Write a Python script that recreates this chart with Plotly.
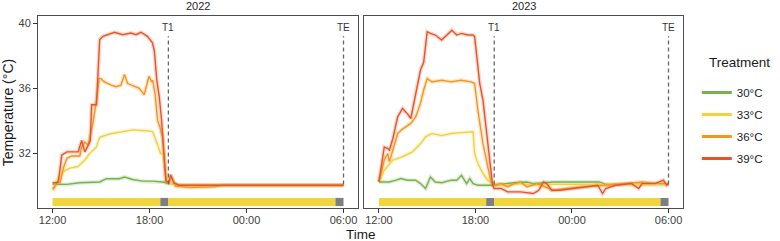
import plotly.graph_objects as go
from datetime import datetime, timedelta

# ---------------- data ----------------
treatments = ["30°C", "33°C", "36°C", "39°C"]
line_colors = ["#77b24f", "#f2d23c", "#f7941d", "#e5552b"]
years = ["2022", "2023"]

x_tick_labels = ["12:00", "18:00", "00:00", "06:00"]
y_tick_values = [32, 36, 40]

# 2022
time_2022_30 = ["12:00", "12:53", "13:41", "14:55", "15:20", "16:08", "16:27", "16:57", "17:34",
                "18:11", "18:47", "19:24", "20:00", "23:00", "02:00", "06:00"]
temp_2022_30 = [30.1, 30.1, 30.2, 30.25, 30.45, 30.45, 30.55, 30.4, 30.3,
                30.3, 30.25, 30.15, 30.05, 30.05, 30.05, 30.05]

time_2022_33 = ["12:00", "12:03", "12:22", "12:40", "13:05", "13:35", "14:00", "14:18", "14:43",
                "14:55", "15:32", "16:20", "16:57", "17:46", "18:11", "18:20", "18:32", "18:41",
                "18:54", "19:02", "19:12", "19:40", "23:00", "02:00", "06:00"]
temp_2022_33 = [29.9, 29.85, 30.55, 30.9, 31.1, 31.2, 31.6, 32.0, 32.4,
                33.0, 33.2, 33.35, 33.45, 33.4, 33.35, 33.0, 32.4, 32.0,
                31.9, 30.5, 30.2, 30.05, 30.05, 30.05, 30.05]

time_2022_36 = ["12:00", "12:04", "12:16", "12:28", "12:40", "12:53", "13:11", "13:41", "13:48",
                "14:00", "14:12", "14:30", "14:43", "14:53", "15:00", "15:12", "15:38", "15:56",
                "16:14", "16:27", "16:39", "17:04", "17:22", "17:40", "17:52", "17:58", "18:08",
                "18:12", "18:21", "18:30", "18:39", "18:48", "18:57", "19:03", "19:12", "19:24",
                "19:36", "20:30", "22:00", "22:30", "02:00", "06:00"]
temp_2022_36 = [29.9, 29.85, 30.2, 30.2, 31.1, 31.7, 31.85, 31.85, 32.4,
                32.7, 32.5, 33.85, 35.3, 36.6, 36.6, 36.4, 36.2, 36.1,
                36.2, 36.85, 36.3, 36.15, 36.0, 35.6, 36.5, 36.75, 36.4,
                36.5, 35.6, 34.0, 33.6, 33.0, 31.0, 30.2, 30.3, 30.5,
                30.0, 29.9, 29.95, 30.05, 30.05, 30.05]

time_2022_39 = ["12:00", "12:15", "12:22", "12:34", "12:53", "13:35", "13:48", "14:00", "14:12",
                "14:20", "14:25", "14:43", "14:55", "15:07", "15:50", "16:20", "16:51", "17:10",
                "17:28", "17:52", "18:11", "18:18", "18:27", "18:36", "18:45", "18:54", "19:01",
                "19:12", "19:18", "19:30", "19:48", "23:00", "02:00", "06:00"]
temp_2022_39 = [30.2, 30.2, 30.3, 31.9, 32.1, 32.1, 32.8, 32.1, 32.5,
                32.8, 35.0, 35.0, 39.0, 39.2, 39.45, 39.3, 39.4, 39.3,
                39.45, 39.2, 38.8, 38.3, 36.5, 35.5, 34.0, 32.0, 30.3,
                30.2, 30.7, 30.2, 30.05, 30.05, 30.05, 30.05]

# 2023
time_2023_30 = ["12:00", "12:39", "13:04", "13:22", "13:46", "14:17", "14:35", "14:54", "15:12",
                "15:30", "15:54", "16:30", "16:50", "17:08", "17:27", "17:39", "17:51", "18:09",
                "19:04", "19:48", "20:24", "21:12", "21:36", "22:14", "22:50", "01:42", "02:06",
                "06:00"]
temp_2023_30 = [30.25, 30.25, 30.36, 30.46, 30.36, 30.36, 30.15, 29.85, 30.56,
                30.25, 30.2, 30.36, 30.36, 30.66, 30.15, 30.46, 30.15, 30.05,
                30.05, 30.15, 30.2, 30.25, 30.15, 30.2, 30.25, 30.25, 30.1,
                30.1]

time_2023_33 = ["12:00", "12:20", "12:52", "13:28", "14:05", "14:35", "14:54", "15:18", "15:54",
                "16:30", "17:06", "17:51", "17:57", "18:09", "18:28", "18:46", "19:04", "19:48",
                "20:48", "21:36", "22:26", "06:00"]
temp_2023_33 = [30.25, 30.97, 31.59, 31.8, 32.1, 32.6, 33.02, 33.23, 33.1,
                33.23, 33.28, 33.33, 32.0, 31.38, 30.77, 30.36, 30.15, 30.05,
                30.15, 30.05, 30.1, 30.1]

time_2023_36 = ["12:00", "12:20", "12:33", "12:39", "12:52", "13:10", "13:28", "13:59", "14:17",
                "14:35", "14:47", "15:00", "15:18", "15:54", "16:30", "17:06", "17:45", "17:57",
                "18:09", "18:28", "18:46", "18:58", "19:10", "19:35", "20:00", "20:24", "20:48",
                "21:12", "21:49", "22:20", "22:50", "23:40", "00:53", "02:06", "03:30", "04:21",
                "05:24", "06:00"]
temp_2023_36 = [30.25, 31.6, 32.0, 31.5, 32.2, 33.23, 33.5, 33.85, 34.25,
                35.08, 35.9, 36.6, 36.4, 36.5, 36.4, 36.5, 36.4, 36.3,
                34.66, 32.6, 31.18, 30.25, 30.05, 30.15, 29.95, 30.15, 30.25,
                29.95, 30.15, 29.95, 29.74, 29.85, 29.95, 30.05, 30.15, 30.25,
                30.15, 30.15]

time_2023_39 = ["12:00", "12:20", "12:33", "12:39", "12:52", "13:10", "13:28", "13:46", "13:59",
                "14:17", "14:35", "14:47", "15:00", "15:12", "15:30", "15:54", "16:12", "16:32",
                "16:50", "17:08", "17:32", "17:51", "17:57", "18:03", "18:16", "18:28", "18:40",
                "18:52", "19:04", "19:10", "19:35", "20:00", "20:48", "21:36", "21:56", "22:14",
                "22:26", "22:44", "23:15", "00:04", "00:53", "01:36", "01:54", "02:06", "02:42",
                "03:42", "04:09", "04:21", "05:10", "05:41", "05:53", "06:00"]
temp_2023_39 = [30.25, 32.4, 32.3, 32.2, 32.92, 34.25, 34.77, 34.45, 34.15,
                35.7, 37.13, 37.6, 39.48, 39.38, 39.28, 38.97, 39.28, 39.58,
                39.28, 39.38, 39.28, 39.28, 39.18, 38.36, 36.3, 35.28, 33.43,
                31.8, 30.05, 29.85, 29.85, 29.64, 29.64, 29.54, 29.74, 30.25,
                30.15, 29.74, 29.74, 29.85, 29.95, 30.05, 29.54, 29.85, 30.05,
                30.15, 29.85, 30.15, 30.15, 30.36, 30.05, 30.15]

series_times = {
    "2022": [time_2022_30, time_2022_33, time_2022_36, time_2022_39],
    "2023": [time_2023_30, time_2023_33, time_2023_36, time_2023_39],
}
series_temps = {
    "2022": [temp_2022_30, temp_2022_33, temp_2022_36, temp_2022_39],
    "2023": [temp_2023_30, temp_2023_33, temp_2023_36, temp_2023_39],
}

# phase bar along the bottom
phase_start = ["12:00", "18:40", "19:10", "05:30"]
phase_end = ["18:40", "19:10", "05:30", "06:00"]
phase_kind = ["exposure", "sampling", "exposure", "sampling"]
phase_colors = {"exposure": "#f0d53c", "sampling": "#7f7f7f"}

# sampling time markers
event_labels = ["T1", "TE"]
event_times = ["19:10", "06:00"]

# ---------------- helpers ----------------
def to_dt(s):
    h, m = map(int, s.split(":"))
    day = 1 if h >= 12 else 2
    return datetime(2000, 1, day, h, m)

FONT = "Liberation Sans, Arial, Helvetica, sans-serif"
BAR_LO, BAR_HI = 28.77, 29.27
MARK_LO, MARK_HI, MARK_LABEL = 30.1, 39.2, 39.75
Y_RANGE = [28.65, 40.45]

x_first = to_dt(x_tick_labels[0])
x_last = to_dt(x_tick_labels[-1])
pad = (x_last - x_first) * 0.05
x_range = [x_first - pad, x_last + pad]

fig = go.Figure()

domains = [[0.0, 0.4962], [0.5061, 1.0]]
axis_ids = [("x", "y"), ("x2", "y2")]

for yi, year in enumerate(years):
    xa, ya = axis_ids[yi]
    # ribbon-like halo
    for ti, tr in enumerate(treatments):
        xs = [to_dt(t) for t in series_times[year][ti]]
        fig.add_trace(go.Scatter(
            x=xs, y=series_temps[year][ti], mode="lines",
            line=dict(color=line_colors[ti], width=4),
            opacity=0.22, hoverinfo="skip", showlegend=False,
            xaxis=xa, yaxis=ya))
    for ti, tr in enumerate(treatments):
        xs = [to_dt(t) for t in series_times[year][ti]]
        fig.add_trace(go.Scatter(
            x=xs, y=series_temps[year][ti], mode="lines",
            name=tr, legendgroup=tr, showlegend=False,
            line=dict(color=line_colors[ti], width=1.4),
            xaxis=xa, yaxis=ya))

    # phase bar
    for s, e, k in zip(phase_start, phase_end, phase_kind):
        fig.add_shape(type="rect", xref=xa, yref=ya,
                      x0=to_dt(s), x1=to_dt(e), y0=BAR_LO, y1=BAR_HI,
                      fillcolor=phase_colors[k], line=dict(width=0), layer="above")

    # event markers
    for lab, t in zip(event_labels, event_times):
        fig.add_shape(type="line", xref=xa, yref=ya,
                      x0=to_dt(t), x1=to_dt(t), y0=MARK_LO, y1=MARK_HI,
                      line=dict(color="#666666", width=1.3, dash="4px,3px"))
        fig.add_annotation(x=to_dt(t), y=MARK_LABEL, xref=xa, yref=ya,
                           text=lab, showarrow=False, yanchor="middle",
                           font=dict(family=FONT, size=10, color="#333333"))

    # facet title
    fig.add_annotation(x=sum(domains[yi]) / 2, y=1 + 10 / 192, xref="paper", yref="paper",
                       text=year, showarrow=False, xanchor="center", yanchor="middle",
                       font=dict(family=FONT, size=11, color="#262626"))

# legend entries (thicker key lines, as in the reference)
for ti, tr in enumerate(treatments):
    fig.add_trace(go.Scatter(
        x=[None], y=[None], mode="lines", name=tr, legendgroup=tr,
        line=dict(color=line_colors[ti], width=3), showlegend=True,
        xaxis="x", yaxis="y"))

axis_common = dict(showgrid=False, zeroline=False, showline=True, mirror=True,
                   linecolor="#4d4d4d", linewidth=1, ticks="outside", ticklen=4,
                   tickcolor="#333333", tickwidth=1,
                   tickfont=dict(family=FONT, size=11, color="#404040"))

tickvals = [to_dt(t) for t in x_tick_labels]
fig.update_layout(
    width=780, height=241,
    margin=dict(l=38, r=89, t=16, b=33),
    plot_bgcolor="white", paper_bgcolor="white",
    font=dict(family=FONT, color="#1a1a1a"),
    xaxis=dict(domain=domains[0], type="date", range=x_range, anchor="y",
               tickvals=tickvals, ticktext=x_tick_labels, ticklabelstandoff=-2,
               **axis_common),
    xaxis2=dict(domain=domains[1], type="date", range=x_range, anchor="y2",
                tickvals=tickvals, ticktext=x_tick_labels, ticklabelstandoff=-2,
                **axis_common),
    yaxis=dict(range=Y_RANGE, tickvals=y_tick_values, anchor="x", **axis_common),
    yaxis2=dict(range=Y_RANGE, anchor="x2", matches="y",
                **{**axis_common, "ticks": "", "showticklabels": False}),
    legend=dict(x=(705 - 38) / 653, xanchor="left", y=(208 - 78) / 192, yanchor="top",
                font=dict(family=FONT, size=11.5, color="#1a1a1a"),
                traceorder="grouped", tracegroupgap=3, bgcolor="rgba(0,0,0,0)",
                borderwidth=0),
)

fig.add_annotation(x=(715 - 38) / 653, y=(208 - 63) / 192, xref="paper", yref="paper",
                   text="Treatment", showarrow=False, xanchor="left", yanchor="middle",
                   font=dict(family=FONT, size=13.5, color="#1a1a1a"))
fig.add_annotation(x=0.5, y=-26 / 192, xref="paper", yref="paper", text="Time",
                   showarrow=False, xanchor="center", yanchor="middle",
                   font=dict(family=FONT, size=13.5, color="#1a1a1a"))
fig.add_annotation(x=-30 / 653, y=0.5, xref="paper", yref="paper", text="Temperature (°C)",
                   textangle=-90, showarrow=False, xanchor="center", yanchor="middle",
                   font=dict(family=FONT, size=14, color="#1a1a1a"))

fig.write_html("out.html", config={"displayModeBar": False},
               post_script="document.body.style.margin='0';")
